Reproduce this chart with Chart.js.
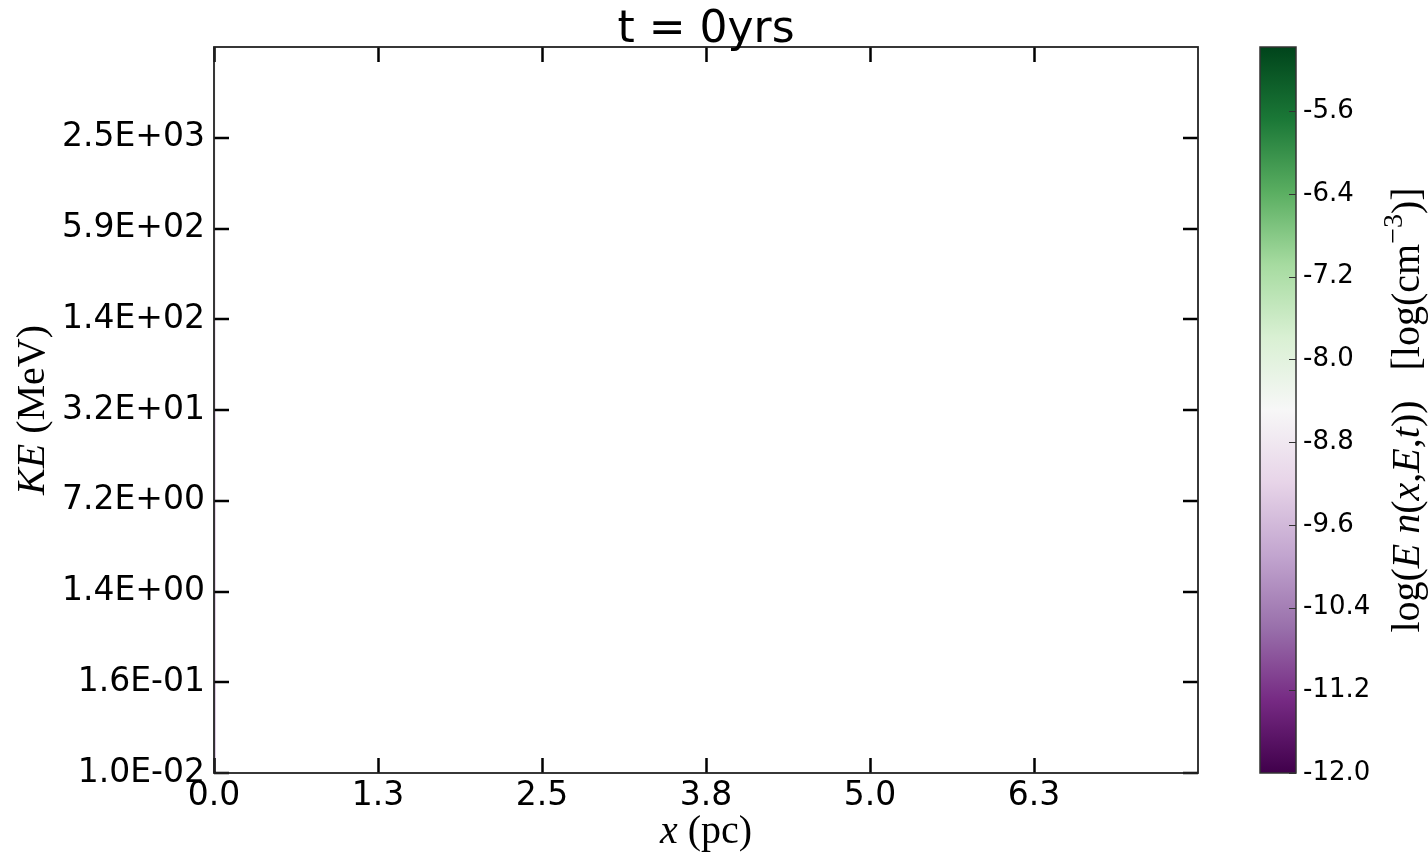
<!DOCTYPE html>
<html>
<head>
<meta charset="utf-8">
<title>t = 0yrs</title>
<script src="https://cdn.jsdelivr.net/npm/chart.js@4.4.1/dist/chart.umd.min.js"></script>
<style>
  html, body { margin: 0; padding: 0; background: #fff; }
  #wrap { position: relative; width: 1428px; height: 857px; }
  #main { position: absolute; left: 0; top: 0; }
  #cbar { position: absolute; left: 1230px; top: 0; }
</style>
</head>
<body>
<div id="wrap">
  <canvas id="main" width="1428" height="857"></canvas>
  <canvas id="cbar" width="198" height="857"></canvas>
</div>
<script>
// --- data ---
const titleText = 't = 0yrs';
const xTickVals = [0, 1.25, 2.5, 3.75, 5.0, 6.25];
const xTickLabels = ['0.0', '1.3', '2.5', '3.8', '5.0', '6.3'];
const xMin = 0;
const xMax = 7.5;
const energyLabels = ['1.0E-02', '1.6E-01', '1.4E+00', '7.2E+00', '3.2E+01', '1.4E+02', '5.9E+02', '2.5E+03'];
// only the x = 0 column has any density at t = 0
const columnX = 0;
const columnLogN = [-9.6, -9.5, -9.4, -9.3, -9.0, -8.8, -8.6, -8.5];
const cbMin = -12.0;
const cbMax = -4.98;
const cbTicks = [-12.0, -11.2, -10.4, -9.6, -8.8, -8.0, -7.2, -6.4, -5.6];
// ---------------------------------

// PRGn colour map (matplotlib / ColorBrewer stops)
const prgnStops = ['#40004b', '#762a83', '#9970ab', '#c2a5cf', '#e7d4e8', '#f7f7f7',
                   '#d9f0d3', '#a6dba0', '#5aae61', '#1b7837', '#00441b'];
function hexRgb(h) {
  return [parseInt(h.slice(1, 3), 16), parseInt(h.slice(3, 5), 16), parseInt(h.slice(5, 7), 16)];
}
function prgn(v) {
  let t = (v - cbMin) / (cbMax - cbMin);
  t = Math.max(0, Math.min(1, t)) * (prgnStops.length - 1);
  const i = Math.min(Math.floor(t), prgnStops.length - 2);
  const f = t - i;
  const a = hexRgb(prgnStops[i]), b = hexRgb(prgnStops[i + 1]);
  const c = a.map((av, k) => Math.round(av + (b[k] - av) * f));
  return `rgb(${c[0]},${c[1]},${c[2]})`;
}

// draws text made of pieces with different fonts, centred on (x, y)
function drawRich(ctx, parts, x, y, rot) {
  ctx.save();
  ctx.translate(x, y);
  ctx.rotate(rot);
  ctx.textAlign = 'left';
  ctx.textBaseline = 'alphabetic';
  ctx.fillStyle = '#000';
  let total = 0;
  parts.forEach(p => { ctx.font = p.font; p.w = ctx.measureText(p.t).width; total += p.w; });
  let cx = -total / 2;
  parts.forEach(p => { ctx.font = p.font; ctx.fillText(p.t, cx, p.dy || 0); cx += p.w; });
  ctx.restore();
}

const serif = '40px "Liberation Serif"';
const serifIt = 'italic 40px "Liberation Serif"';

// frame, inward ticks, title and axis labels of the main panel
const framePlugin = {
  id: 'frame',
  afterDraw(chart) {
    const { ctx, chartArea: a, scales } = chart;
    ctx.save();
    ctx.strokeStyle = '#000';
    ctx.lineWidth = 2.5;
    ctx.beginPath();
    scales.x.ticks.forEach(t => {
      const px = Math.round(scales.x.getPixelForValue(t.value)) + 0.5;
      ctx.moveTo(px, a.bottom); ctx.lineTo(px, a.bottom - 15);
      ctx.moveTo(px, a.top); ctx.lineTo(px, a.top + 15);
    });
    scales.y.ticks.forEach(t => {
      const py = Math.round(scales.y.getPixelForValue(t.value));
      ctx.moveTo(a.left, py); ctx.lineTo(a.left + 15, py);
      ctx.moveTo(a.right, py); ctx.lineTo(a.right - 15, py);
    });
    ctx.stroke();
    ctx.lineWidth = 1.8;
    ctx.strokeStyle = '#222';
    ctx.strokeRect(a.left, a.top, a.right - a.left, a.bottom - a.top);

    ctx.fillStyle = '#000';
    ctx.font = '44px "DejaVu Sans"';
    ctx.textAlign = 'center';
    ctx.textBaseline = 'alphabetic';
    ctx.fillText(titleText, (a.left + a.right) / 2, 42);
    ctx.restore();

    drawRich(ctx, [{ t: 'x', font: serifIt }, { t: ' (pc)', font: serif }],
      (a.left + a.right) / 2, 843, 0);
    drawRich(ctx, [{ t: 'KE', font: serifIt }, { t: ' (MeV)', font: serif }],
      44, (a.top + a.bottom) / 2, -Math.PI / 2);
  }
};

const columnPoints = [];
for (let i = 0; i <= energyLabels.length; i++) columnPoints.push({ x: columnX, y: i });

new Chart(document.getElementById('main'), {
  type: 'line',
  data: {
    datasets: [{
      data: columnPoints,
      borderWidth: 3.5,
      pointRadius: 0,
      segment: { borderColor: c => prgn(columnLogN[c.p0DataIndex]) }
    }]
  },
  options: {
    responsive: false,
    animation: false,
    layout: { padding: { left: 0, top: 47, right: 230, bottom: 0 } },
    plugins: { legend: { display: false }, tooltip: { enabled: false }, title: { display: false } },
    scales: {
      x: {
        type: 'linear', min: xMin, max: xMax,
        grid: { display: false, drawTicks: false },
        border: { display: false },
        ticks: {
          color: '#000', padding: 4, maxRotation: 0, autoSkip: false,
          font: { family: 'DejaVu Sans', size: 33 },
          callback: (v, i) => xTickLabels[i]
        },
        afterBuildTicks: s => { s.ticks = xTickVals.map(v => ({ value: v })); },
        afterFit: s => { s.height = 84; }
      },
      y: {
        type: 'linear', min: 0, max: energyLabels.length,
        grid: { display: false, drawTicks: false },
        border: { display: false },
        ticks: {
          color: '#000', padding: 9, autoSkip: false,
          font: { family: 'DejaVu Sans', size: 33 },
          callback: (v, i) => energyLabels[i]
        },
        afterBuildTicks: s => { s.ticks = energyLabels.map((l, i) => ({ value: i })); },
        afterFit: s => { s.width = 214; }
      }
    }
  },
  plugins: [framePlugin]
});

// colour bar
const cbarPlugin = {
  id: 'cbar',
  beforeDatasetsDraw(chart) {
    const { ctx, chartArea: a, scales } = chart;
    const y0 = scales.y.getPixelForValue(cbMin), y1 = scales.y.getPixelForValue(cbMax);
    const g = ctx.createLinearGradient(0, y0, 0, y1);
    prgnStops.forEach((c, i) => g.addColorStop(i / (prgnStops.length - 1), c));
    ctx.save();
    ctx.fillStyle = g;
    ctx.fillRect(a.left, y1, a.right - a.left, y0 - y1);
    ctx.restore();
  },
  afterDraw(chart) {
    const { ctx, chartArea: a, scales } = chart;
    ctx.save();
    ctx.strokeStyle = '#333';
    ctx.lineWidth = 1;
    ctx.beginPath();
    scales.y.ticks.forEach(t => {
      const py = Math.round(scales.y.getPixelForValue(t.value)) + 0.5;
      ctx.moveTo(a.right, py); ctx.lineTo(a.right - 7, py);
    });
    ctx.stroke();
    ctx.lineWidth = 1.5;
    ctx.strokeRect(a.left, a.top, a.right - a.left, a.bottom - a.top);
    ctx.restore();

    const f = 40;
    const r = `${f}px "Liberation Serif"`, it = `italic ${f}px "Liberation Serif"`;
    const sup = `${Math.round(f * 0.7)}px "Liberation Serif"`;
    drawRich(ctx, [
      { t: 'log(', font: r }, { t: 'E', font: it }, { t: ' ', font: r }, { t: 'n', font: it },
      { t: '(', font: r }, { t: 'x', font: it }, { t: ',', font: r }, { t: 'E', font: it },
      { t: ',', font: r }, { t: 't', font: it }, { t: '))   [log(cm', font: r },
      { t: '\u22123', font: sup, dy: -f * 0.42 }, { t: ')]', font: r }
    ], 189, (a.top + a.bottom) / 2, -Math.PI / 2);
  }
};

new Chart(document.getElementById('cbar'), {
  type: 'bar',
  data: { labels: [''], datasets: [{ data: [] }] },
  options: {
    responsive: false,
    animation: false,
    layout: { padding: { left: 30, top: 47, right: 0, bottom: 84 } },
    plugins: { legend: { display: false }, tooltip: { enabled: false } },
    scales: {
      x: { display: false },
      y: {
        position: 'right', min: cbMin, max: cbMax,
        grid: { display: false, drawTicks: false },
        border: { display: false },
        ticks: {
          color: '#000', padding: 7, autoSkip: false,
          font: { family: 'DejaVu Sans', size: 26 },
          callback: v => v.toFixed(1)
        },
        afterBuildTicks: s => { s.ticks = cbTicks.map(v => ({ value: v })); },
        afterFit: s => { s.width = 132; }
      }
    }
  },
  plugins: [cbarPlugin]
});
</script>
</body>
</html>
